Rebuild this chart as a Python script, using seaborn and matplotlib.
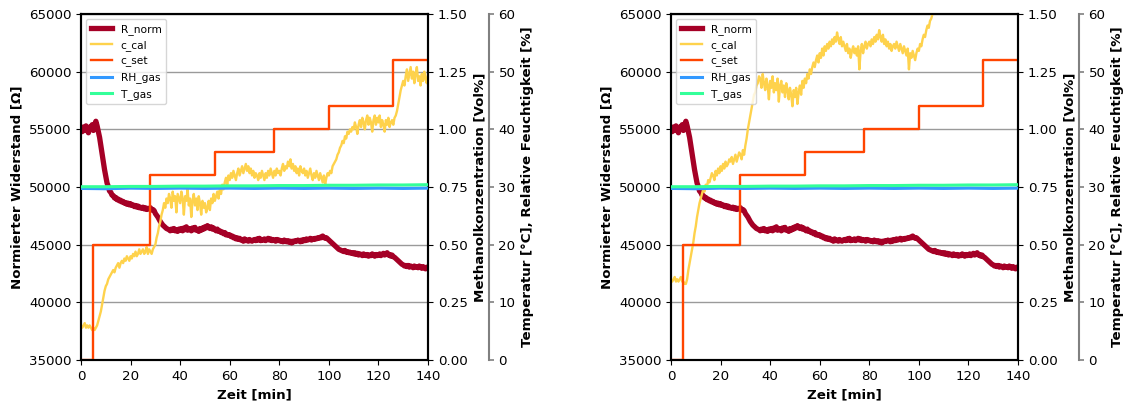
import numpy as np
import pandas as pd
import matplotlib
matplotlib.use("Agg")
import matplotlib.pyplot as plt
import seaborn as sns

# ---------------- data ----------------
t_fine = np.arange(0, 140.5, 0.5)          # time grid [min], 0.5 min
t_fine_r = np.arange(0, 108.5, 0.5)        # right panel c_cal (leaves the plot at the top)

R_norm = [
    55100, 54800, 55200, 54900, 55300, 55000, 54700, 55200, 55000, 55400,
    54900, 55400, 55700, 55300, 54800, 54300, 53600, 52900, 52200, 51500,
    50900, 50350, 50050, 49650, 49550, 49300, 49250, 49050, 49100, 48900,
    48950, 48800, 48850, 48700, 48750, 48600, 48650, 48500, 48600, 48450,
    48550, 48400, 48450, 48300, 48400, 48250, 48350, 48200, 48250, 48150,
    48250, 48100, 48200, 48050, 48150, 48100, 48200, 48000, 48050, 47950,
    47700, 47550, 47400, 47200, 47000, 46850, 46700, 46600, 46500, 46400,
    46350, 46300, 46200, 46350, 46250, 46400, 46200, 46300, 46150, 46350,
    46250, 46400, 46200, 46450, 46300, 46550, 46250, 46400, 46350, 46200,
    46450, 46300, 46500, 46250, 46300, 46150, 46400, 46250, 46450, 46350,
    46550, 46450, 46650, 46500, 46400, 46550, 46350, 46450, 46300, 46200,
    46350, 46150, 46200, 46050, 46100, 45950, 46050, 45850, 45900, 45800,
    45850, 45700, 45750, 45600, 45650, 45500, 45600, 45450, 45550, 45400,
    45450, 45300, 45500, 45350, 45400, 45300, 45450, 45350, 45300, 45400,
    45450, 45350, 45500, 45400, 45550, 45350, 45450, 45400, 45500, 45350,
    45450, 45550, 45400, 45500, 45350, 45450, 45400, 45300, 45450, 45350,
    45400, 45300, 45350, 45250, 45400, 45300, 45250, 45350, 45200, 45300,
    45150, 45300, 45250, 45350, 45300, 45400, 45350, 45250, 45400, 45300,
    45450, 45350, 45500, 45400, 45450, 45550, 45400, 45500, 45450, 45550,
    45500, 45600, 45550, 45650, 45600, 45750, 45650, 45550, 45600, 45500,
    45400, 45300, 45200, 45100, 45000, 44900, 44800, 44700, 44600, 44550,
    44500, 44450, 44400, 44500, 44350, 44400, 44300, 44350, 44250, 44300,
    44200, 44300, 44150, 44250, 44100, 44200, 44150, 44050, 44200, 44100,
    44050, 44150, 44000, 44100, 44050, 44200, 44100, 44000, 44150, 44050,
    44100, 44200, 44050, 44150, 44250, 44100, 44200, 44300, 44100, 44150,
    44000, 44100, 43950, 43900, 43800, 43700, 43600, 43500, 43400, 43300,
    43250, 43150, 43200, 43100, 43200, 43050, 43150, 43100, 43000, 43150,
    43050, 43100, 43000, 43150, 43050, 42950, 43100, 43000, 42900, 43050,
    42950,
]

c_cal_left = [
    .15, .14, .15, .16, .14, .15, .14, .15, .14, .13, .14, .13, .14, .15, .17, .19, .21, .24, .27, .30,
    .32, .33, .35, .36, .37, .38, .39, .38, .40, .41, .42, .40, .42, .43, .42, .44, .43, .45, .44, .43,
    .45, .44, .46, .45, .47, .45, .46, .48, .46, .47, .48, .46, .47, .49, .46, .48, .47, .46, .48, .49,
    .50, .53, .55, .58, .60, .63, .65, .68, .66, .70, .68, .72, .70, .66, .73, .69, .71, .64, .72, .70,
    .68, .73, .70, .63, .71, .69, .74, .67, .70, .62, .69, .72, .67, .70, .65, .71, .68, .63, .69, .66,
    .68, .64, .66, .69, .65, .70, .68, .72, .69, .71, .73, .70, .74, .72, .76, .74, .77, .79, .76, .80,
    .78, .81, .79, .82, .80, .78, .81, .83, .80, .82, .84, .81, .83, .85, .82, .84, .81, .83, .80, .82,
    .79, .81, .80, .78, .81, .79, .82, .80, .78, .81, .79, .82, .80, .83, .81, .79, .82, .80, .83, .81,
    .82, .80, .83, .85, .82, .84, .83, .86, .84, .87, .83, .85, .82, .84, .81, .83, .80, .84, .82, .81,
    .83, .80, .82, .79, .81, .83, .80, .78, .81, .79, .82, .80, .78, .81, .79, .77, .80, .76, .79, .81,
    .80, .82, .81, .84, .85, .86, .87, .89, .90, .92, .93, .95, .94, .97, .96, .99, .98, 1.00, .99, 1.01,
    1.00, 1.03, 1.01, .98, 1.02, 1.04, 1.01, 1.05, 1.03, 1.00, 1.04, 1.06, 1.02, 1.05, 1.03, .99, 1.04, 1.06, 1.02, 1.05,
    1.03, 1.06, 1.01, 1.04, 1.02, .99, 1.04, 1.02, 1.05, 1.01, 1.03, 1.04, 1.02, 1.05, 1.06, 1.08, 1.11, 1.14, 1.17, 1.19,
    1.21, 1.19, 1.23, 1.26, 1.21, 1.24, 1.27, 1.22, 1.25, 1.20, 1.24, 1.27, 1.21, 1.23, 1.19, 1.24, 1.21, 1.25, 1.22, 1.20,
    1.24,
]

c_cal_right = [
    .35, .34, .35, .36, .34, .35, .34, .35, .36, .34, .34, .33, .33, .35, .39, .42, .45, .48, .51, .55,
    .58, .62, .65, .68, .70, .72, .74, .73, .76, .75, .78, .77, .79, .81, .80, .78, .82, .80, .83, .81,
    .84, .82, .85, .83, .86, .84, .85, .87, .86, .88, .85, .87, .89, .86, .88, .90, .89, .87, .91, .89,
    .93, .96, 1.00, 1.03, 1.06, 1.09, 1.12, 1.15, 1.16, 1.19, 1.20, 1.23, 1.22, 1.18, 1.24, 1.20, 1.17, 1.22, 1.19, 1.13,
    1.21, 1.18, 1.23, 1.16, 1.20, 1.17, 1.22, 1.12, 1.19, 1.21, 1.16, 1.19, 1.14, 1.20, 1.17, 1.13, 1.18, 1.15, 1.10, 1.17,
    1.14, 1.18, 1.11, 1.16, 1.19, 1.15, 1.21, 1.18, 1.22, 1.20, 1.24, 1.22, 1.26, 1.24, 1.27, 1.29, 1.27, 1.30, 1.32, 1.29,
    1.33, 1.31, 1.35, 1.32, 1.36, 1.34, 1.37, 1.35, 1.38, 1.36, 1.39, 1.37, 1.40, 1.38, 1.42, 1.39, 1.37, 1.40, 1.36, 1.38,
    1.36, 1.34, 1.37, 1.33, 1.35, 1.31, 1.34, 1.36, 1.33, 1.35, 1.32, 1.36, 1.26, 1.34, 1.37, 1.33, 1.36, 1.38, 1.35, 1.37,
    1.38, 1.36, 1.39, 1.37, 1.40, 1.38, 1.41, 1.39, 1.43, 1.40, 1.38, 1.41, 1.37, 1.39, 1.36, 1.38, 1.35, 1.37, 1.34, 1.36,
    1.37, 1.35, 1.38, 1.36, 1.34, 1.37, 1.35, 1.33, 1.36, 1.34, 1.32, 1.35, 1.26, 1.33, 1.31, 1.34, 1.32, 1.30, 1.33, 1.35,
    1.34, 1.37, 1.36, 1.39, 1.41, 1.40, 1.43, 1.45, 1.44, 1.47, 1.48, 1.50, 1.52, 1.54, 1.56, 1.58, 1.60,
]

# set-point concentration (steps) [Vol%]
t_set = [0, 5, 28, 54, 78, 100, 126, 140]
c_set = [0.0, 0.5, 0.8, 0.9, 1.0, 1.1, 1.3, 1.3]

# gas humidity / temperature
t_gas = [0, 10, 20, 30, 40, 50, 60, 70, 80, 90, 100, 110, 120, 130, 140]
RH_gas = [29.75, 29.7, 29.8, 29.75, 29.8, 29.75, 29.8, 29.75, 29.8, 29.75, 29.8, 29.75, 29.8, 29.75, 29.8]
T_gas = [30.05, 30.05, 30.1, 30.1, 30.15, 30.15, 30.2, 30.2, 30.25, 30.25, 30.3, 30.3, 30.35, 30.35, 30.4]

panels = [c_cal_left, c_cal_right]
panel_times = [t_fine, t_fine_r]

# ---------------- style ----------------
C_R = "#a50026"
C_CAL = "#fed24c"
C_SET = "#ff4500"
C_RH = "#3399ff"
C_T = "#33ff99"

FS = 9.6
plt.rcParams["font.family"] = ["DejaVu Sans"]

fig = plt.figure(figsize=(11.27, 4.05), dpi=100)
W, H = 1127, 405
lefts = [81, 671]

for k in range(2):
    ax1 = fig.add_axes([lefts[k] / W, 45 / H, 347 / W, 346 / H])
    ax2 = ax1.twinx()
    ax3 = ax1.twinx()
    ax3.spines["right"].set_position(("axes", 1.175))

    sns.lineplot(x=t_fine, y=R_norm, ax=ax1, color=C_R, lw=3.8, label="R_norm", estimator=None)
    sns.lineplot(x=panel_times[k], y=panels[k], ax=ax2, color=C_CAL, lw=1.7, label="c_cal", estimator=None)
    sns.lineplot(x=t_set, y=c_set, ax=ax2, color=C_SET, lw=1.7, label="c_set",
                 estimator=None, drawstyle="steps-post")
    sns.lineplot(x=t_gas, y=RH_gas, ax=ax3, color=C_RH, lw=2.2, label="RH_gas", estimator=None)
    sns.lineplot(x=t_gas, y=T_gas, ax=ax3, color=C_T, lw=2.2, label="T_gas", estimator=None)

    for a in (ax1, ax2, ax3):
        lg = a.get_legend()
        if lg is not None:
            lg.remove()

    ax1.set_xlim(0, 140)
    ax1.set_xticks(range(0, 141, 20))
    ax1.set_ylim(35000, 65000)
    ax1.set_yticks(range(35000, 65001, 5000))
    ax2.set_ylim(0, 1.5)
    ax2.set_yticks([0, 0.25, 0.5, 0.75, 1.0, 1.25, 1.5])
    ax2.set_yticklabels(["0.00", "0.25", "0.50", "0.75", "1.00", "1.25", "1.50"])
    ax3.set_ylim(0, 60)
    ax3.set_yticks(range(0, 61, 10))

    ax1.grid(axis="y", color="#9a9a9a", lw=1.0)
    ax1.set_axisbelow(True)

    ax1.set_xlabel("Zeit [min]", fontsize=FS, fontweight="bold")
    ax1.set_ylabel("Normierter Widerstand [Ω]", fontsize=FS, fontweight="bold")
    ax2.set_ylabel("Methanolkonzentration [Vol%]", fontsize=FS, fontweight="bold")
    ax3.set_ylabel("Temperatur [°C], Relative Feuchtigkeit [%]", fontsize=FS, fontweight="bold")

    for a in (ax1, ax2):
        a.tick_params(labelsize=FS)
        for s in a.spines.values():
            s.set_linewidth(1.5)
            s.set_color("black")
    ax3.tick_params(labelsize=FS, color="gray", width=1.2)
    ax3.spines["right"].set_color("gray")
    ax3.spines["right"].set_linewidth(1.5)
    for s in ("left", "top", "bottom"):
        ax3.spines[s].set_visible(False)

    handles = ax1.get_lines()[:1] + ax2.get_lines()[:2] + ax3.get_lines()[:2]
    labels = ["R_norm", "c_cal", "c_set", "RH_gas", "T_gas"]
    ax3.legend(handles, labels, loc="upper left", fontsize=7.7, framealpha=0.8)

fig.savefig("out.png", dpi=100)
